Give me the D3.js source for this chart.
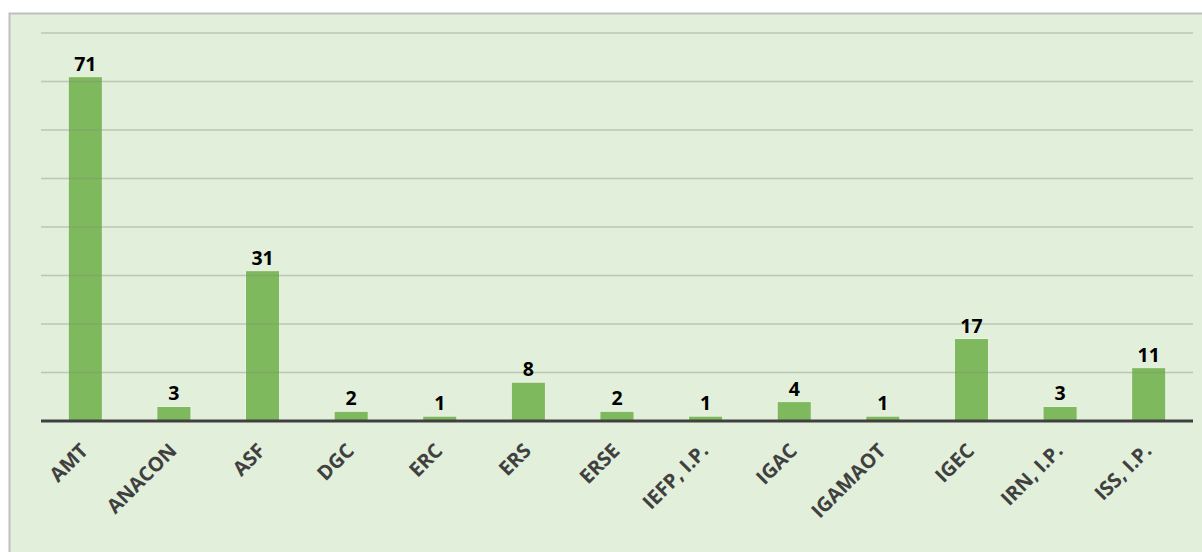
<!DOCTYPE html>
<html>
<head>
<meta charset="utf-8">
<script src="https://cdn.jsdelivr.net/npm/d3@7"></script>
<style>
  body { margin: 0; background: #ffffff; }
</style>
</head>
<body>
<script>
var categories = ["AMT", "ANACON", "ASF", "DGC", "ERC", "ERS", "ERSE", "IEFP, I.P.", "IGAC", "IGAMAOT", "IGEC", "IRN, I.P.", "ISS, I.P."];
var values = [71, 3, 31, 2, 1, 8, 2, 1, 4, 1, 17, 3, 11];
var gridTicks = [10, 20, 30, 40, 50, 60, 70, 80];

var svg = d3.select("body")
  .append("svg")
  .attr("width", 1202)
  .attr("height", 552);

// chart area background and border
svg.append("rect")
  .attr("x", 9.5)
  .attr("y", 13.5)
  .attr("width", 1200)
  .attr("height", 545)
  .attr("fill", "#E2EFDA")
  .attr("stroke", "#BFBFBF")
  .attr("stroke-width", 2);

var x = d3.scaleBand()
  .domain(categories)
  .range([41, 1193])
  .paddingInner(0.615)
  .paddingOuter(0.3075);

var y = d3.scaleLinear()
  .domain([0, 80])
  .range([421, 33]);

// bars
svg.selectAll(".bar")
  .data(values)
  .enter()
  .append("rect")
  .attr("class", "bar")
  .attr("x", function(d, i) { return x(categories[i]); })
  .attr("y", function(d) { return y(d); })
  .attr("width", x.bandwidth())
  .attr("height", function(d) { return y(0) - y(d); })
  .attr("fill", "#7FB95E")
  .attr("stroke", "#EAF3E4")
  .attr("stroke-width", 1);

// gridlines
svg.selectAll(".grid")
  .data(gridTicks)
  .enter()
  .append("line")
  .attr("class", "grid")
  .attr("x1", 41)
  .attr("x2", 1193)
  .attr("y1", function(d) { return y(d); })
  .attr("y2", function(d) { return y(d); })
  .attr("stroke", "#7F8F79")
  .attr("stroke-opacity", 0.4)
  .attr("stroke-width", 1.3);

// baseline
svg.append("line")
  .attr("x1", 41)
  .attr("x2", 1193)
  .attr("y1", y(0))
  .attr("y2", y(0))
  .attr("stroke", "#404040")
  .attr("stroke-width", 3);

// value labels
svg.selectAll(".val")
  .data(values)
  .enter()
  .append("text")
  .attr("class", "val")
  .attr("x", function(d, i) { return x(categories[i]) + x.bandwidth() / 2; })
  .attr("y", function(d) { return y(d) - 6; })
  .attr("text-anchor", "middle")
  .attr("font-family", "Open Sans, sans-serif")
  .attr("font-weight", "bold")
  .attr("font-size", 19.5)
  .attr("fill", "#000000")
  .text(function(d) { return d; });

// category labels
svg.selectAll(".cat")
  .data(categories)
  .enter()
  .append("text")
  .attr("class", "cat")
  .attr("transform", function(d) {
    var cx = x(d) + x.bandwidth() / 2 + 4;
    return "translate(" + cx + ",452) rotate(-45)";
  })
  .attr("text-anchor", "end")
  .attr("font-family", "Open Sans, sans-serif")
  .attr("font-weight", "bold")
  .attr("font-size", 20)
  .attr("fill", "#404040")
  .text(function(d) { return d; });
</script>
</body>
</html>
